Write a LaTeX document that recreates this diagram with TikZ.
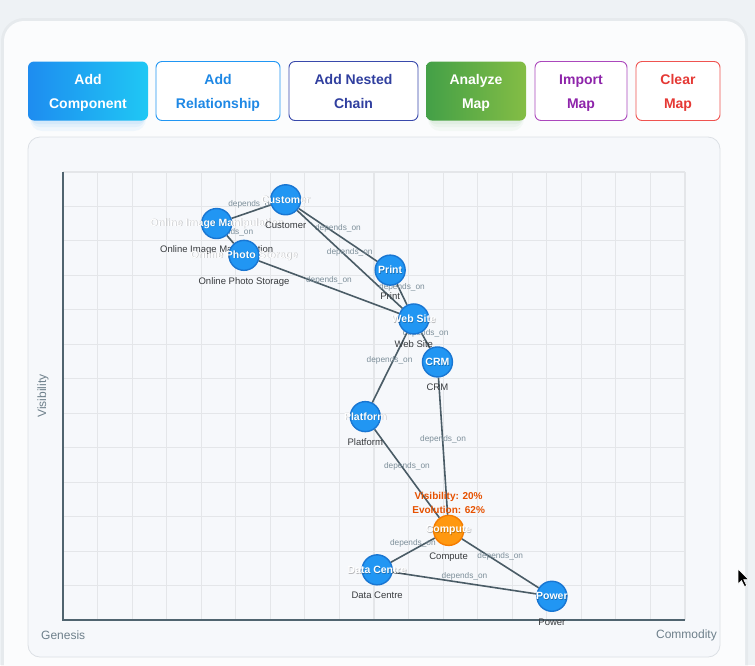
\documentclass[tikz,border=0pt]{standalone}
\usepackage{fontspec}
\setmainfont{Liberation Sans}
\usetikzlibrary{positioning}

\definecolor{pagebg}{HTML}{EEF2F5}
\definecolor{cardbg}{HTML}{FBFCFD}
\definecolor{panelbg}{HTML}{F6F8FB}
\definecolor{panelline}{HTML}{DCE0E5}
\definecolor{gridc}{HTML}{E4E6E9}
\definecolor{axisc}{HTML}{50646F}
\definecolor{axtxt}{HTML}{6E808B}
\definecolor{linkc}{HTML}{4A5C66}
\definecolor{deptxt}{HTML}{7D8F9A}
\definecolor{lbltxt}{HTML}{383B3E}
\definecolor{compfill}{HTML}{2196F3}
\definecolor{compline}{HTML}{1976D2}
\definecolor{hotfill}{HTML}{FF9810}
\definecolor{hotline}{HTML}{F57C00}
\definecolor{hottxt}{HTML}{E65100}
\definecolor{bluea}{HTML}{1E8CF0}
\definecolor{blueb}{HTML}{1FC8F4}
\definecolor{relc}{HTML}{1E88E5}
\definecolor{nestc}{HTML}{3949AB}
\definecolor{nesttxt}{HTML}{303F9F}
\definecolor{greena}{HTML}{43A047}
\definecolor{greenb}{HTML}{84BD45}
\definecolor{purpc}{HTML}{AB47BC}
\definecolor{purptxt}{HTML}{8E24AA}
\definecolor{redc}{HTML}{EF5350}
\definecolor{redtxt}{HTML}{E53935}

\pgfdeclarelayer{base}
\pgfdeclarelayer{links}
\pgfsetlayers{base,links,main}

\newcommand{\compname}[2]{%
\node[intxt, text=black, opacity=0.25] (#1-sh) at ([shift={(0.6pt,-0.6pt)}]#1) {#2};
\node[intxt] (#1-tx) at (#1) {#2};}

\begin{document}
\begin{tikzpicture}[x=1pt,y=-1pt,
  btn/.style={rounded corners=6pt, minimum height=59pt, inner sep=0pt, line width=0.9pt},
  btntxt/.style={align=center, inner sep=0pt, font=\bfseries\fontsize{14}{24}\selectfont, text depth=3pt, yshift=-2pt},
  comp/.style={circle, fill=compfill, draw=compline, line width=1.4pt, minimum size=30pt, inner sep=0pt},
  hotcomp/.style={comp, fill=hotfill, draw=hotline},
  intxt/.style={text=white, font=\bfseries\fontsize{10.5}{12}\selectfont, inner sep=0pt},
  lbl/.style={text=lbltxt, font=\fontsize{9.5}{11}\selectfont, inner sep=0pt, text height=7pt, text depth=2pt},
  dep/.style={text=deptxt, font=\fontsize{8.3}{9}\selectfont, inner sep=0pt, yshift=7pt},
  link/.style={draw=linkc, line width=1.6pt},
  metric/.style={text=hottxt, font=\bfseries\fontsize{10}{14}\selectfont, align=center, inner sep=0pt},
  axlbl/.style={text=axtxt, font=\fontsize{12}{14}\selectfont, inner sep=0pt},
  gridline/.style={draw=gridc, line width=1.1pt}]

\useasboundingbox (0,0) rectangle (755,665);

\begin{pgfonlayer}{base}
\fill[pagebg] (0,0) rectangle (755,665);%le fond
\fill[black, opacity=0.03, rounded corners=23pt] (1,18) rectangle (748,700);
\fill[cardbg, rounded corners=20pt] (4,21) rectangle (745,700);

\fill[compfill, opacity=0.05, rounded corners=12pt] (30,74) rectangle (146,131);
\fill[compfill, opacity=0.06, rounded corners=9pt] (31,72) rectangle (145,127);
\fill[compfill, opacity=0.07, rounded corners=7pt] (31,70) rectangle (145,124);
\fill[greena, opacity=0.04, rounded corners=12pt] (428,74) rectangle (524,131);
\fill[greena, opacity=0.05, rounded corners=9pt] (429,72) rectangle (523,127);
\fill[greena, opacity=0.06, rounded corners=7pt] (429,70) rectangle (523,124);

\draw[fill=panelbg, draw=panelline, line width=0.8pt, rounded corners=12pt] (28,137) rectangle (720,657);

\begin{scope}[shift={(63,620)}, x=6.22pt, y=4.48pt]
\foreach \i in {1,...,18} \draw[gridline] (\i*100/18,0) -- (\i*100/18,100);%la grille
\foreach \j in {1,...,13} \draw[gridline] (0,\j*100/13) -- (100,\j*100/13);
\draw[axisc, line width=1.8pt] (0,100) -- (0,0) -- (100,0);%les axes
\end{scope}
\end{pgfonlayer}

%les boutons
\node[btn, minimum width=120pt, left color=bluea, right color=blueb] (addcomp) at (88,91) {};
\node[btntxt, text=white] (addcomp-tx) at (addcomp) {Add\\Component};
\node[btn, minimum width=124pt, draw=compfill, fill=white] (addrel) at (218,91) {};
\node[btntxt, text=relc] (addrel-tx) at (addrel) {Add\\Relationship};
\node[btn, minimum width=129pt, draw=nestc, fill=white] (addnest) at (353.5,91) {};
\node[btntxt, text=nesttxt] (addnest-tx) at (addnest) {Add Nested\\Chain};
\node[btn, minimum width=100pt, left color=greena, right color=greenb] (analyze) at (476,91) {};
\node[btntxt, text=white] (analyze-tx) at (analyze) {Analyze\\Map};
\node[btn, minimum width=92pt, draw=purpc, fill=white] (import) at (581,91) {};
\node[btntxt, text=purptxt] (import-tx) at (import) {Import\\Map};
\node[btn, minimum width=84pt, draw=redc, fill=white] (clear) at (678,91) {};
\node[btntxt, text=redtxt] (clear-tx) at (clear) {Clear\\Map};

\node[axlbl, anchor=west] (gen) at (41,635) {Genesis};
\node[axlbl, anchor=east] (com) at (717,635) {Commodity};
\node[axlbl, rotate=90] (vis) at (43,396) {Visibility};

%les composants
\begin{scope}[shift={(63,620)}, x=6.22pt, y=4.48pt]
\node[comp] (oim) at (24.7,88.5) {};
\compname{oim}{Online Image Manipulation}
\node[lbl, below=6pt of oim] (oim-lbl) {Online Image Manipulation};

\node[comp] (ops) at (29.1,81.4) {};
\compname{ops}{Online Photo Storage}
\node[lbl, below=6pt of ops] (ops-lbl) {Online Photo Storage};

\node[comp] (cust) at (35.8,93.8) {};
\compname{cust}{Customer}
\node[lbl, below=6pt of cust] (cust-lbl) {Customer};

\node[comp] (print) at (52.6,78.1) {};
\compname{print}{Print}
\node[lbl, below=6pt of print] (print-lbl) {Print};

\node[comp] (web) at (56.4,67.2) {};
\compname{web}{Web Site}
\node[lbl, below=6pt of web] (web-lbl) {Web Site};

\node[comp] (crm) at (60.2,57.6) {};
\compname{crm}{CRM}
\node[lbl, below=6pt of crm] (crm-lbl) {CRM};

\node[comp] (plat) at (48.6,45.4) {};
\compname{plat}{Platform}
\node[lbl, below=6pt of plat] (plat-lbl) {Platform};

\node[hotcomp] (cpu) at (62,20) {};
\compname{cpu}{Compute}
\node[lbl, below=6pt of cpu] (cpu-lbl) {Compute};
\node[metric] (cpu-met) at ([yshift=27pt]cpu.center) {Visibility: 20\%\\Evolution: 62\%};

\node[comp] (dc) at (50.5,11.2) {};
\compname{dc}{Data Centre}
\node[lbl, below=6pt of dc] (dc-lbl) {Data Centre};

\node[comp] (pow) at (78.6,5.3) {};
\compname{pow}{Power}
\node[lbl, below=6pt of pow] (pow-lbl) {Power};
\end{scope}

\begin{pgfonlayer}{links}%les liens
\draw[link] (oim) -- node[dep]{depends\_on} (cust);
\draw[link] (oim) -- node[dep]{depends\_on} (ops);
\draw[link] (cust) -- node[dep]{depends\_on} (print);
\draw[link] (cust) -- node[dep]{depends\_on} (web);
\draw[link] (ops) -- node[dep]{depends\_on} (web);
\draw[link] (print) -- node[dep]{depends\_on} (web);
\draw[link] (web) -- node[dep]{depends\_on} (crm);
\draw[link] (web) -- node[dep]{depends\_on} (plat);
\draw[link] (crm) -- node[dep]{depends\_on} (cpu);
\draw[link] (plat) -- node[dep]{depends\_on} (cpu);
\draw[link] (cpu) -- node[dep]{depends\_on} (dc);
\draw[link] (cpu) -- node[dep]{depends\_on} (pow);
\draw[link] (dc) -- node[dep]{depends\_on} (pow);
\end{pgfonlayer}

\filldraw[fill=black, draw=white, line width=0.6pt] (738,569) -- ++(0,15) -- ++(3.5,-3.5) -- ++(3,6) -- ++(2.2,-1) -- ++(-3,-5.8) -- ++(5,0) -- cycle;
\end{tikzpicture}
\end{document}
